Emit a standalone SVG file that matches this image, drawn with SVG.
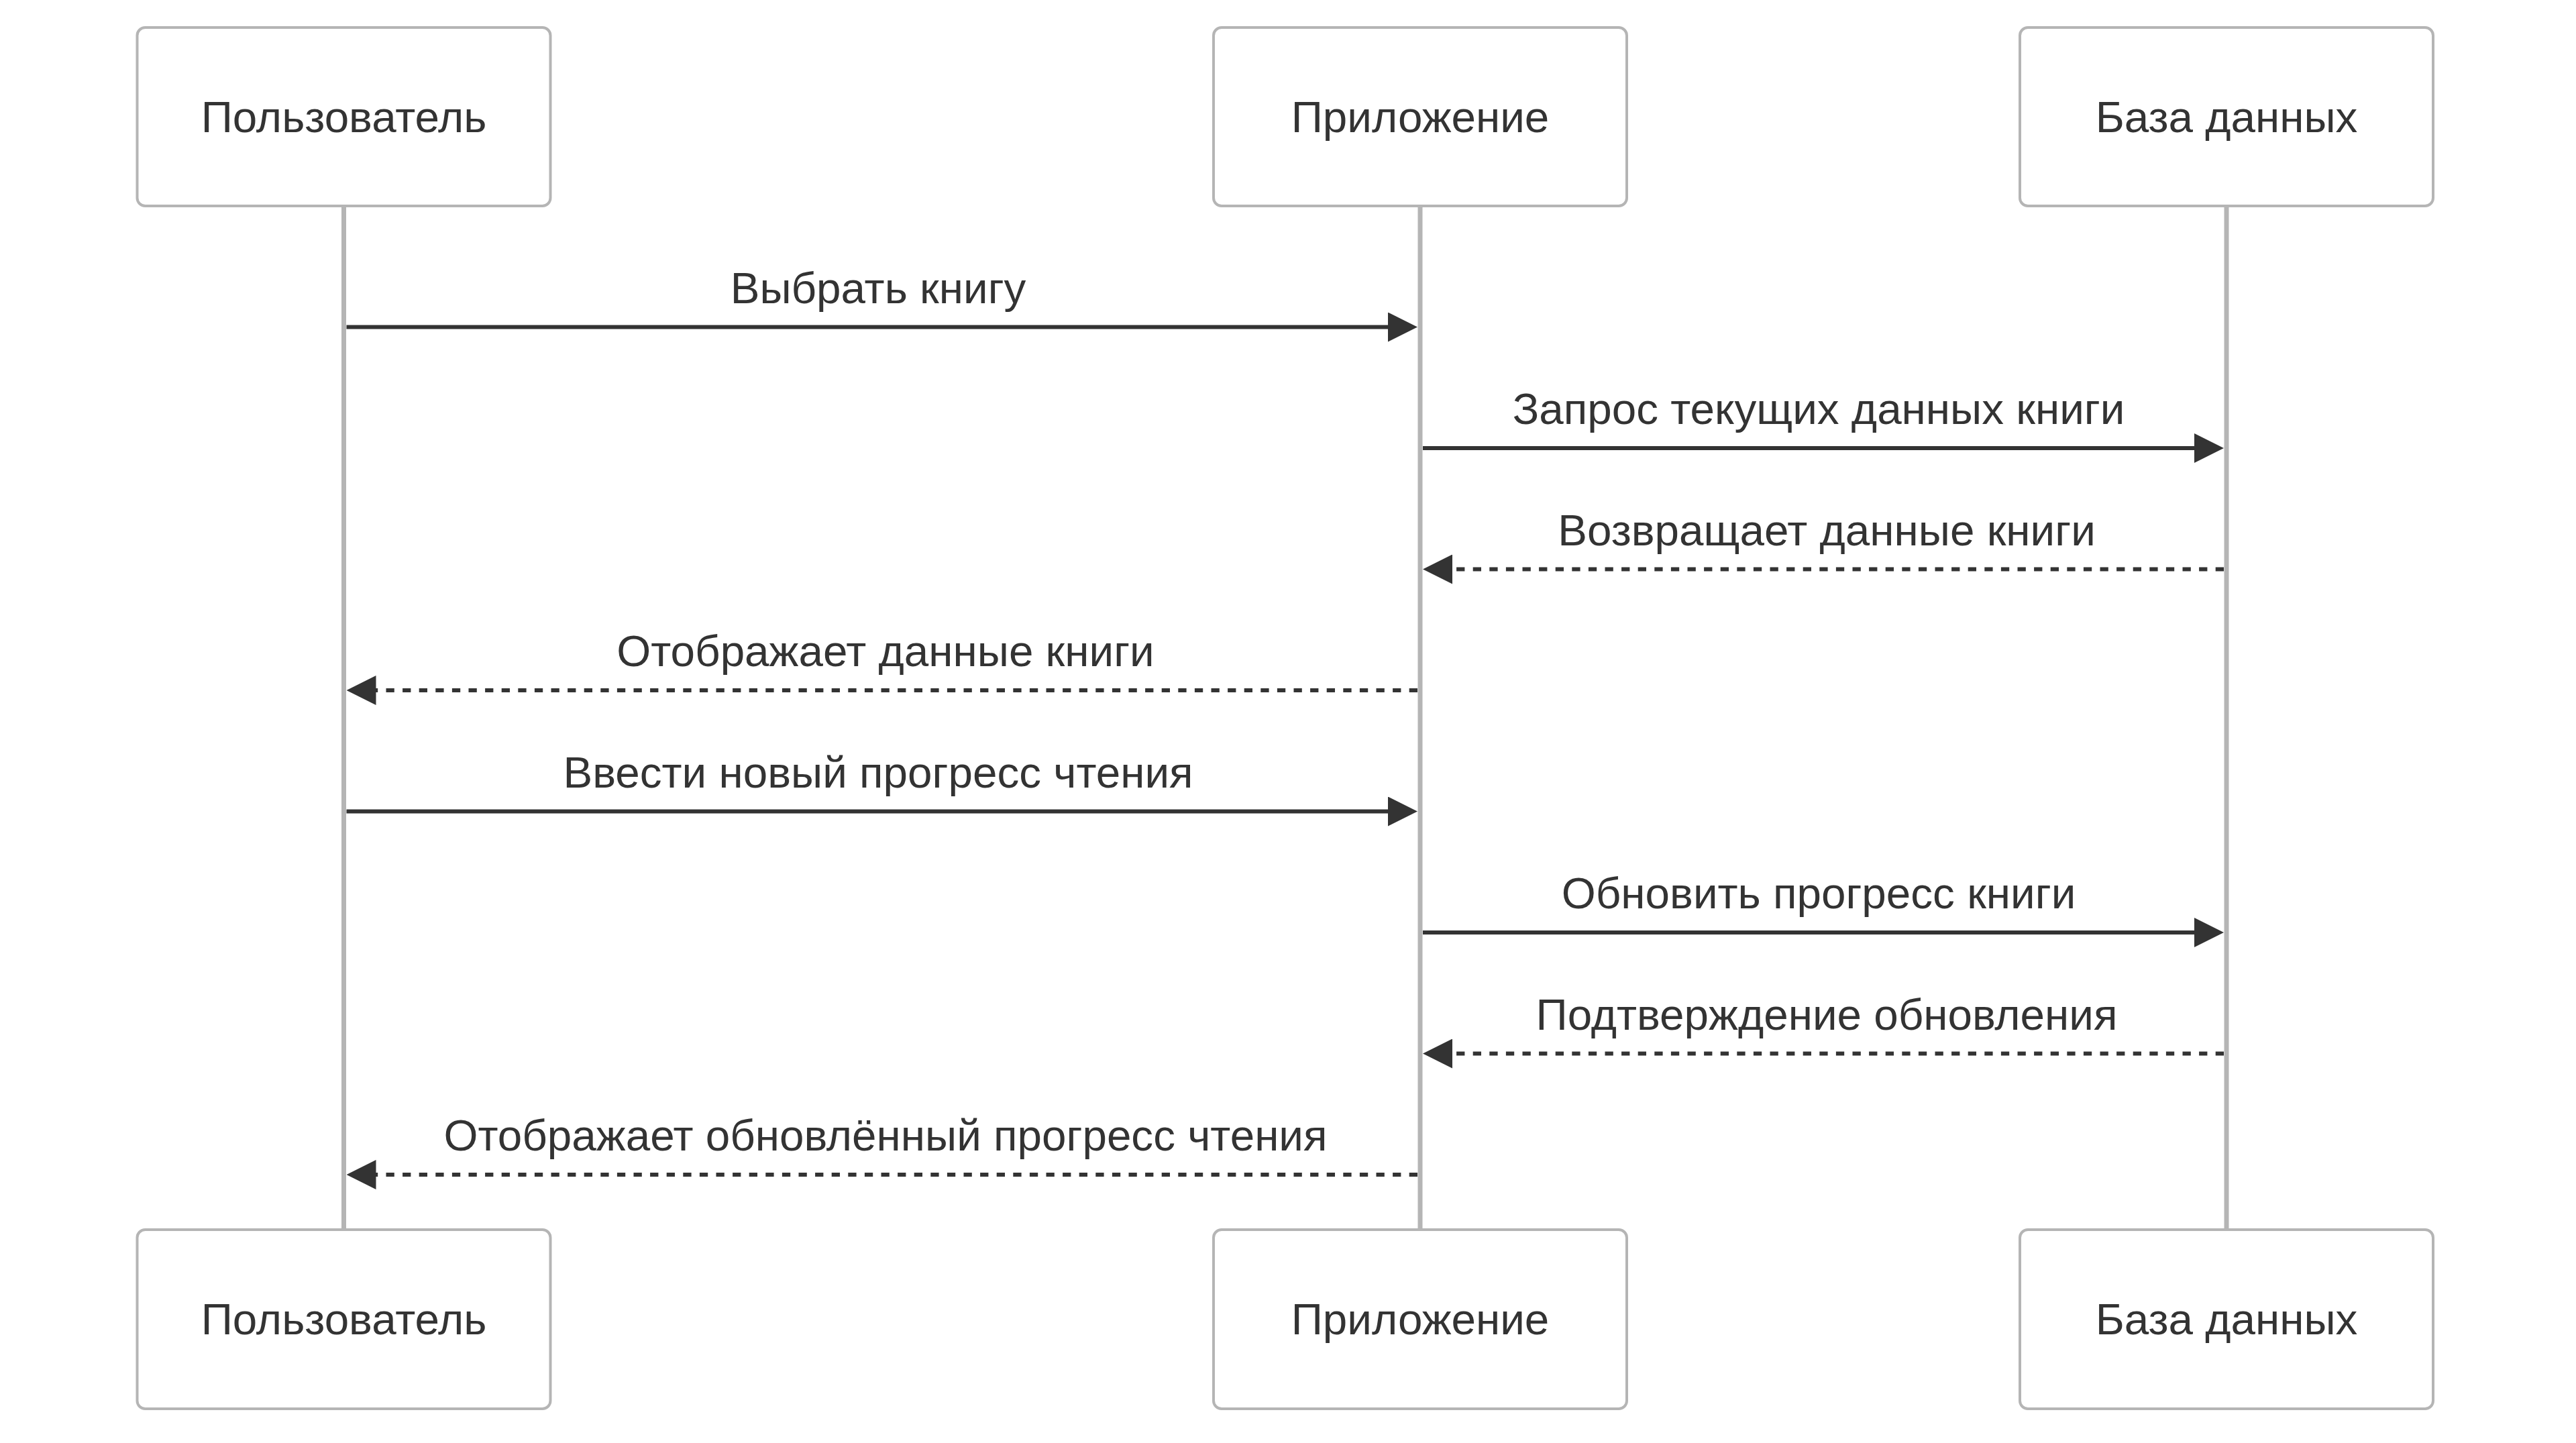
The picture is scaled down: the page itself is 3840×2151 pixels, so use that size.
<svg xmlns="http://www.w3.org/2000/svg" width="3840" height="2151" viewBox="0 0 3840 2151">
<style>
.actor{fill:#ffffff;stroke:#b5b5b5;stroke-width:4}
.atext{font-family:"Liberation Sans",Arial,sans-serif;font-size:65.6px;fill:#333333;text-anchor:middle}
.life{stroke:#b5b5b5;stroke-width:7;fill:none}
.msg{stroke:#333333;stroke-width:6;fill:none}
.dash{stroke-dasharray:12.3 12.3}
.mtext{font-family:"Liberation Sans",Arial,sans-serif;font-size:65.6px;fill:#333333;text-anchor:middle}
</style>
<defs>
<marker id="arrow" markerUnits="userSpaceOnUse" markerWidth="44" markerHeight="44" viewBox="0 0 44 44" refX="34" refY="22" orient="auto">
<path d="M0,0 L44,22 L0,44 z" fill="#333333"/>
</marker>
</defs>
<rect width="3840" height="2151" fill="#ffffff"/>
<g id="lifelines">
<line class="life" x1="512.5" y1="307" x2="512.5" y2="1833"/>
<line class="life" x1="2117" y1="307" x2="2117" y2="1833"/>
<line class="life" x1="3319" y1="307" x2="3319" y2="1833"/>
</g>
<g id="actor-user-top"><rect class="actor" x="204.5" y="41" width="616" height="266" rx="12"/><text class="atext" x="512.5" y="197">Пользователь</text></g>
<g id="actor-app-top"><rect class="actor" x="1809" y="41" width="616" height="266" rx="12"/><text class="atext" x="2117" y="197">Приложение</text></g>
<g id="actor-db-top"><rect class="actor" x="3011" y="41" width="616" height="266" rx="12"/><text class="atext" x="3319" y="197">База данных</text></g>
<g id="actor-user-bottom"><rect class="actor" x="204.5" y="1833" width="616" height="267" rx="12"/><text class="atext" x="512.5" y="1989">Пользователь</text></g>
<g id="actor-app-bottom"><rect class="actor" x="1809" y="1833" width="616" height="267" rx="12"/><text class="atext" x="2117" y="1989">Приложение</text></g>
<g id="actor-db-bottom"><rect class="actor" x="3011" y="1833" width="616" height="267" rx="12"/><text class="atext" x="3319" y="1989">База данных</text></g>
<g id="connectors">
<line class="msg" x1="516.5" y1="487.5" x2="2103" y2="487.5" marker-end="url(#arrow)"/>
<text class="mtext" x="1309" y="451.5">Выбрать книгу</text>
<line class="msg" x1="2121" y1="668" x2="3305" y2="668" marker-end="url(#arrow)"/>
<text class="mtext" x="2711" y="632">Запрос текущих данных книги</text>
<line class="msg dash" x1="3315" y1="848.5" x2="2131" y2="848.5" marker-end="url(#arrow)"/>
<text class="mtext" x="2723" y="812.5">Возвращает данные книги</text>
<line class="msg dash" x1="2113" y1="1029" x2="526.5" y2="1029" marker-end="url(#arrow)"/>
<text class="mtext" x="1320" y="993">Отображает данные книги</text>
<line class="msg" x1="516.5" y1="1209.5" x2="2103" y2="1209.5" marker-end="url(#arrow)"/>
<text class="mtext" x="1309" y="1173.5">Ввести новый прогресс чтения</text>
<line class="msg" x1="2121" y1="1390" x2="3305" y2="1390" marker-end="url(#arrow)"/>
<text class="mtext" x="2711" y="1354">Обновить прогресс книги</text>
<line class="msg dash" x1="3315" y1="1570.5" x2="2131" y2="1570.5" marker-end="url(#arrow)"/>
<text class="mtext" x="2723" y="1534.5">Подтверждение обновления</text>
<line class="msg dash" x1="2113" y1="1751" x2="526.5" y2="1751" marker-end="url(#arrow)"/>
<text class="mtext" x="1320" y="1715">Отображает обновлённый прогресс чтения</text>
</g>
</svg>
